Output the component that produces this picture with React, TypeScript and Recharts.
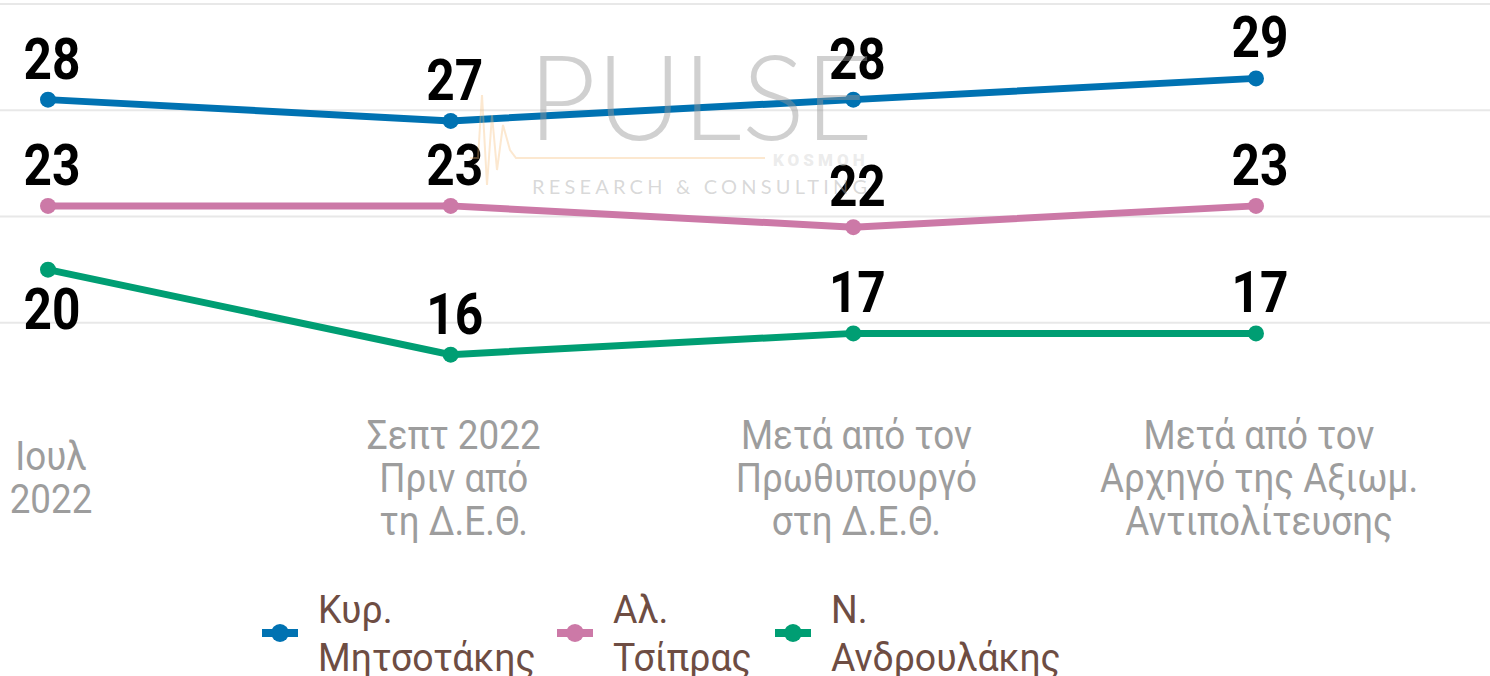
import { CartesianGrid, LabelList, Line, LineChart, XAxis, YAxis } from "recharts";

// Κατηγορίες (γραμμές χωρισμένες με \n) και τιμές ανά πρόσωπο
const CATEGORIES = [
  "Ιουλ\n2022",
  "Σεπτ 2022\nΠριν από\nτη Δ.Ε.Θ.",
  "Μετά από τον\nΠρωθυπουργό\nστη Δ.Ε.Θ.",
  "Μετά από τον\nΑρχηγό της Αξιωμ.\nΑντιπολίτευσης",
];
const MITSOTAKIS = [28, 27, 28, 29];
const TSIPRAS = [23, 23, 22, 23];
const ANDROULAKIS = [20, 16, 17, 17];
const Y_TICKS = [17.5, 22.5, 27.5, 32.5];
const Y_DOMAIN = [12.5, 32.5];

const SERIES = [
  { key: "mitsotakis", name: "Κυρ.\nΜητσοτάκης", color: "#0072B2", values: MITSOTAKIS },
  { key: "tsipras", name: "Αλ.\nΤσίπρας", color: "#CC79A7", values: TSIPRAS },
  { key: "androulakis", name: "Ν.\nΑνδρουλάκης", color: "#009E73", values: ANDROULAKIS },
];

const data = CATEGORIES.map((label, i) => {
  const row: Record<string, string | number> = { label };
  SERIES.forEach((s) => (row[s.key] = s.values[i]));
  return row;
});

// Roboto στενεμένο με scaleX, για να μοιάζει με Roboto Condensed
const FONT = "Roboto, sans-serif";
const W = 1490;
const H = 676;

function CategoryTick({ x, y, payload }: any) {
  const lines = String(payload.value).split("\n");
  const lh = 43;
  const first = y + 49 - ((lines.length - 1) * lh) / 2 + 14;
  return (
    <g transform={`translate(${x + 3},0) scale(0.92,1)`}>
      <text x={0} textAnchor="middle" fill="#9d9d9d" fontSize={40} fontFamily={FONT}>
        {lines.map((l, i) => (
          <tspan key={i} x={0} y={first + i * lh}>
            {l}
          </tspan>
        ))}
      </text>
    </g>
  );
}

// Ετικέτα τιμής: πάνω από το σημείο, εκτός από το πρώτο σημείο της πράσινης γραμμής
function valueLabel(below: (i: number) => boolean) {
  return (props: any) => {
    const { x, y, value, index } = props;
    const by = below(index) ? y + 59 : y - 21;
    return (
      <g transform={`translate(${x + 4},0) scale(0.87,1)`}>
        <text x={0} y={by} textAnchor="middle" fill="#000" fontSize={57} fontWeight={700} fontFamily={FONT}>
          {value}
        </text>
      </g>
    );
  };
}

function Watermark() {
  return (
    <svg width={W} height={H} style={{ position: "absolute", left: 0, top: 0, pointerEvents: "none" }}>
      <text x={528} y={140} fill="rgba(150,150,150,0.45)" fontSize={118} fontWeight={300} fontFamily="Lato, sans-serif" letterSpacing={0}>
        PULSE
      </text>
      <polyline
        points="470,158 478,158 482,95 487,185 492,115 497,170 503,125 510,150 516,158 765,158"
        fill="none"
        stroke="rgba(245,190,120,0.35)"
        strokeWidth={2}
      />
      <text x={773} y={166} fill="rgba(205,205,205,0.4)" fontSize={17} fontWeight={900} fontFamily="Roboto, sans-serif" letterSpacing={4}>
        KOSMOH
      </text>
      <text x={532} y={194} fill="rgba(170,170,170,0.45)" fontSize={20} fontFamily="Lato, sans-serif" letterSpacing={4.2}>
        RESEARCH &amp; CONSULTING
      </text>
    </svg>
  );
}

const LEGEND_X = [262, 557, 775];

function LegendBox() {
  return (
    <svg width={W} height={H} style={{ position: "absolute", left: 0, top: 0, pointerEvents: "none" }}>
      {SERIES.map((s, i) => {
        const x0 = LEGEND_X[i];
        const [l1, l2] = s.name.split("\n");
        return (
          <g key={s.key}>
            <line x1={x0} y1={633} x2={x0 + 36} y2={633} stroke={s.color} strokeWidth={8} />
            <circle cx={x0 + 18} cy={633} r={9} fill={s.color} />
            <g transform={`translate(${x0 + 56},0) scale(0.96,1)`}>
              <text x={0} fill="#6e4d43" fontSize={39} fontFamily={FONT}>
                <tspan x={0} y={623}>{l1}</tspan>
                <tspan x={0} y={671}>{l2}</tspan>
              </text>
            </g>
          </g>
        );
      })}
    </svg>
  );
}

export default function App() {
  return (
    <div style={{ position: "relative", width: W, height: H, background: "#fff", overflow: "hidden" }}>
      <style>{"body{margin:0}"}</style>
      <LineChart width={W} height={H} data={data} margin={{ top: 4, right: 0, bottom: 0, left: 0 }}>
        <CartesianGrid vertical={false} horizontalValues={Y_TICKS} stroke="#e8e8e8" strokeWidth={2} />
        <XAxis
          dataKey="label"
          axisLine={false}
          tickLine={false}
          tickSize={0}
          tickMargin={0}
          height={247}
          interval={0}
          padding={{ left: 48, right: 234 }}
          tick={<CategoryTick />}
        />
        <YAxis hide domain={Y_DOMAIN} ticks={Y_TICKS} type="number" />
        {SERIES.map((s) => (
          <Line
            key={s.key}
            dataKey={s.key}
            name={s.name}
            stroke={s.color}
            strokeWidth={7}
            dot={{ r: 8, fill: s.color, stroke: "none" }}
            activeDot={false}
            isAnimationActive={false}
          >
            <LabelList dataKey={s.key} content={valueLabel((i) => s.key === "androulakis" && i === 0)} />
          </Line>
        ))}
      </LineChart>
      <Watermark />
      <LegendBox />
    </div>
  );
}
